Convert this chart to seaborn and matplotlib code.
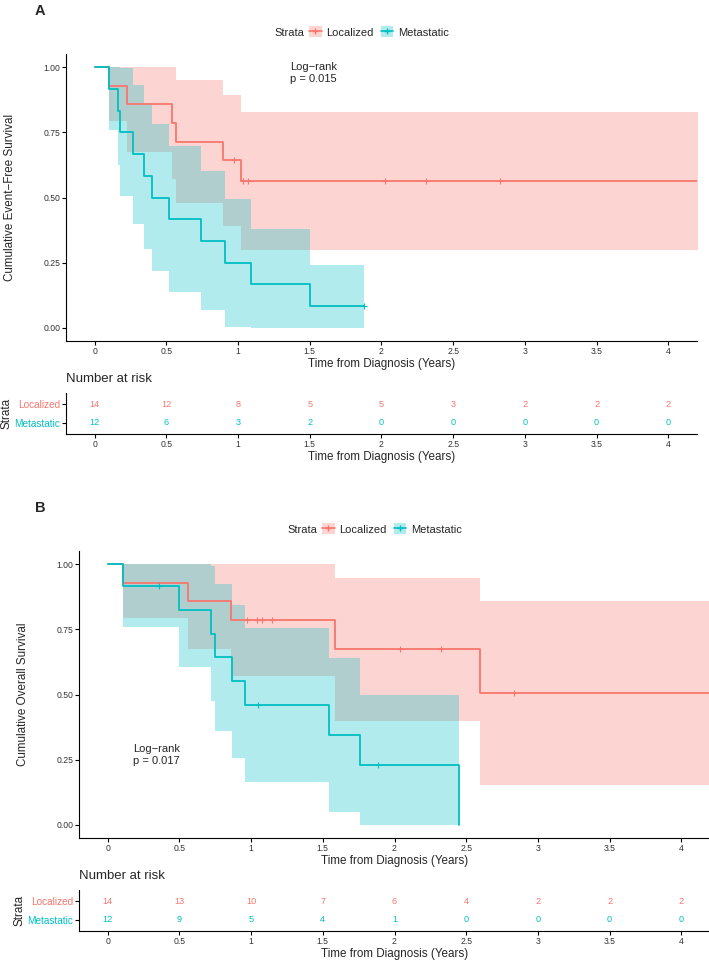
import matplotlib
matplotlib.use("Agg")
import matplotlib.pyplot as plt
import seaborn as sns
from matplotlib.patches import Patch
from matplotlib.lines import Line2D
from matplotlib.legend_handler import HandlerTuple

RED = "#F8766D"
TEAL = "#00BFC4"
strata = ["Localized", "Metastatic"]
risk_times = [0, 0.5, 1, 1.5, 2, 2.5, 3, 3.5, 4]

# ---- Panel A: event-free survival ----
a_loc_t = [0, 0.098, 0.224, 0.542, 0.564, 0.898, 1.02, 4.3]
a_loc_s = [1, 0.929, 0.857, 0.786, 0.714, 0.643, 0.563, 0.563]
a_loc_lo = [1, 0.794, 0.674, 0.571, 0.478, 0.392, 0.298, 0.298]
a_loc_hi = [1, 1, 1, 1, 0.951, 0.894, 0.827, 0.827]
a_loc_cens_t = [0.969, 1.036, 1.069, 2.024, 2.313, 2.824]
a_loc_cens_s = [0.643, 0.563, 0.563, 0.563, 0.563, 0.563]

a_met_t = [0, 0.098, 0.162, 0.176, 0.269, 0.347, 0.398, 0.52, 0.74, 0.907, 1.087, 1.5, 1.876]
a_met_s = [1, 0.917, 0.833, 0.75, 0.667, 0.583, 0.5, 0.417, 0.333, 0.25, 0.167, 0.083, 0.083]
a_met_lo = [1, 0.760, 0.623, 0.505, 0.400, 0.304, 0.217, 0.138, 0.067, 0.005, 0, 0, 0]
a_met_hi = [1, 1, 1, 0.995, 0.933, 0.862, 0.783, 0.696, 0.600, 0.495, 0.378, 0.240, 0.240]
a_met_cens_t = [1.876]
a_met_cens_s = [0.083]

a_risk_loc = [14, 12, 8, 5, 5, 3, 2, 2, 2]
a_risk_met = [12, 6, 3, 2, 0, 0, 0, 0, 0]

# ---- Panel B: overall survival ----
b_loc_t = [0, 0.107, 0.558, 0.858, 1.584, 2.593, 4.3]
b_loc_s = [1, 0.929, 0.857, 0.786, 0.673, 0.505, 0.505]
b_loc_lo = [1, 0.794, 0.674, 0.571, 0.399, 0.153, 0.153]
b_loc_hi = [1, 1, 1, 1, 0.948, 0.857, 0.857]
b_loc_cens_t = [0.973, 1.04, 1.073, 1.147, 2.036, 2.322, 2.833]
b_loc_cens_s = [0.786, 0.786, 0.786, 0.786, 0.673, 0.673, 0.505]

b_met_t = [0, 0.107, 0.496, 0.718, 0.747, 0.867, 0.958, 1.545, 1.758, 2.451]
b_met_s = [1, 0.917, 0.825, 0.733, 0.642, 0.55, 0.458, 0.344, 0.229, 0]
b_met_lo = [1, 0.760, 0.604, 0.474, 0.359, 0.256, 0.164, 0.049, 0, 0]
b_met_hi = [1, 1, 1, 0.993, 0.924, 0.844, 0.753, 0.638, 0.498, 0.498]
b_met_cens_t = [0.358, 1.047, 1.884]
b_met_cens_s = [0.917, 0.458, 0.229]

b_risk_loc = [14, 13, 10, 7, 6, 4, 2, 2, 2]
b_risk_met = [12, 9, 5, 4, 1, 0, 0, 0, 0]

sns.set_theme(style="ticks")
plt.rcParams["font.family"] = ["Liberation Sans", "DejaVu Sans"]

W, H = 709, 960
fig = plt.figure(figsize=(W / 100, H / 100), dpi=100)

XT = [0, 0.5, 1, 1.5, 2, 2.5, 3, 3.5, 4]
XTL = ["0", "0.5", "1", "1.5", "2", "2.5", "3", "3.5", "4"]
LAB = 8.4  # axis title size


def rect(left, top, width, height):
    return [left / W, 1 - (top + height) / H, width / W, height / H]


def style(ax):
    sns.despine(ax=ax)
    for s in ["left", "bottom"]:
        ax.spines[s].set_linewidth(0.8)
        ax.spines[s].set_color("black")
    ax.tick_params(length=3, width=0.8, color="black", labelcolor="#333333",
                   labelsize=6.2, pad=1.2)
    ax.set_facecolor("white")


def panel(letter, left, top, curves, ylabel, pval, pxy, risk_loc, risk_met):
    # letter and legend
    fig.text(40 / W, 1 - (top - 43) / H, letter, fontsize=10.5, fontweight="bold",
             ha="center", va="center")
    cx = left - 66 + 363
    ly = 1 - (top - 22) / H
    fig.text((cx - 89) / W, ly - 1 / H, "Strata", fontsize=8, ha="left", va="center")
    handles = []
    for c in [RED, TEAL]:
        handles.append((Patch(facecolor=c, alpha=0.3, edgecolor="none"),
                        Line2D([], [], color=c, lw=1.2, marker="+", markersize=5)))
    fig.legend(handles, strata, loc="center", bbox_to_anchor=((cx + 16) / W, ly),
               ncol=2, frameon=False, fontsize=8, handlelength=1.15,
               handleheight=1.15, handletextpad=0.45, columnspacing=0.6,
               borderpad=0, handler_map={tuple: HandlerTuple(ndivide=1)})

    ax = fig.add_axes(rect(left, top, 631, 287))
    for (t, s, lo, hi, ct, cs, c) in curves:
        sns.lineplot(x=t, y=s, drawstyle="steps-post", color=c, lw=1.3,
                     estimator=None, sort=False, ax=ax)
    for (t, s, lo, hi, ct, cs, c) in curves:
        ax.fill_between(t, lo, hi, step="post", color=c, alpha=0.3, lw=0)
    for (t, s, lo, hi, ct, cs, c) in curves:
        sns.scatterplot(x=ct, y=cs, marker="+", s=22, color=c, linewidth=0.8,
                        ax=ax, zorder=5)
    ax.set_xlim(-0.2, 4.2)
    ax.set_ylim(-0.05, 1.05)
    ax.set_xticks(XT, XTL)
    ax.set_yticks([0, 0.25, 0.5, 0.75, 1], ["0.00", "0.25", "0.50", "0.75", "1.00"])
    style(ax)
    ax.set_xlabel("Time from Diagnosis (Years)", fontsize=LAB, labelpad=1.8)
    ax.set_ylabel(ylabel, fontsize=LAB)
    ax.yaxis.set_label_coords(-0.08, 0.5)
    ax.text(pxy[0], pxy[1], "Log\u2212rank", fontsize=8, ha="left", va="center")
    ax.text(pxy[0], pxy[1] - pxy[2], pval, fontsize=8, ha="left", va="center")

    # risk table
    rt = fig.add_axes(rect(left, top + 339, 631, 41))
    rt.set_xlim(-0.2, 4.2)
    rt.set_ylim(-0.6, 1.6)
    for x, n1, n2 in zip(risk_times, risk_loc, risk_met):
        rt.text(x, 1, str(n1), color=RED, fontsize=6.6, ha="center", va="center")
        rt.text(x, 0, str(n2), color=TEAL, fontsize=6.6, ha="center", va="center")
    rt.set_xticks(XT, XTL)
    rt.set_yticks([1, 0], strata)
    style(rt)
    for lbl, c in zip(rt.get_yticklabels(), [RED, TEAL]):
        lbl.set_color(c)
        lbl.set_fontsize(7.2)
    rt.set_xlabel("Time from Diagnosis (Years)", fontsize=LAB, labelpad=1.5)
    rt.set_ylabel("Strata", fontsize=LAB)
    rt.yaxis.set_label_coords(-0.084, 0.5)
    rt.text(0, 1.2, "Number at risk", transform=rt.transAxes, fontsize=9.5,
            ha="left", va="bottom")


curves_a = [
    (a_loc_t, a_loc_s, a_loc_lo, a_loc_hi, a_loc_cens_t, a_loc_cens_s, RED),
    (a_met_t, a_met_s, a_met_lo, a_met_hi, a_met_cens_t, a_met_cens_s, TEAL),
]
curves_b = [
    (b_loc_t, b_loc_s, b_loc_lo, b_loc_hi, b_loc_cens_t, b_loc_cens_s, RED),
    (b_met_t, b_met_s, b_met_lo, b_met_hi, b_met_cens_t, b_met_cens_s, TEAL),
]

panel("A", 66, 54, curves_a, "Cumulative Event\u2212Free Survival", "p = 0.015",
      (1.36, 1.0, 0.046), a_risk_loc, a_risk_met)
panel("B", 79, 551, curves_b, "Cumulative Overall Survival", "p = 0.017",
      (0.18, 0.29, 0.046), b_risk_loc, b_risk_met)

fig.savefig("out.png", dpi=100)
